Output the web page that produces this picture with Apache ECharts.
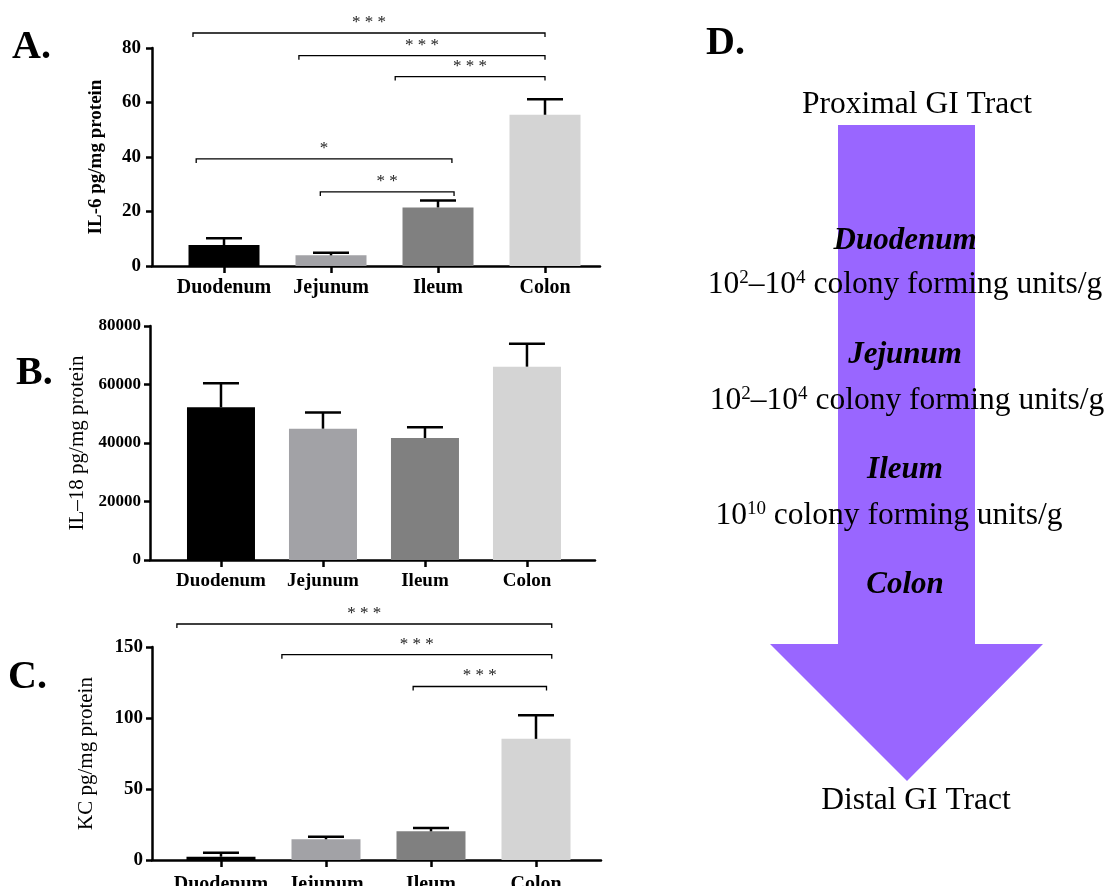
<!DOCTYPE html>
<html>
<head>
<meta charset="utf-8">
<script src="https://cdn.jsdelivr.net/npm/echarts@6/dist/echarts.min.js"></script>
<style>
  html, body { margin: 0; padding: 0; background: #fff; }
  #main { width: 1108px; height: 886px; }
</style>
</head>
<body>
<div id="main"></div>
<script>
const categories = ['Duodenum', 'Jejunum', 'Ileum', 'Colon'];
const barColors = ['#000000', '#a2a2a6', '#808080', '#d4d4d4'];

const il6Mean = [7.7, 3.9, 21.5, 55.5];
const il6Sem = [2.5, 1.0, 2.5, 5.7];
const il6Ticks = [0, 20, 40, 60, 80];

const il18Mean = [52200, 44900, 41700, 66100];
const il18Sem = [8200, 5500, 3700, 7850];
const il18Ticks = [0, 20000, 40000, 60000, 80000];

const kcMean = [2.3, 14.6, 20.2, 85.3];
const kcSem = [2.8, 1.8, 2.4, 16.7];
const kcTicks = [0, 50, 100, 150];

// significance brackets: [from, to, height, stars]
const il6Sig = [
  [-0.29, 3.0, 85.5, '***'],
  [0.70, 3.0, 77.2, '***'],
  [1.60, 3.0, 69.5, '***'],
  [-0.26, 2.13, 39.3, '*'],
  [0.90, 2.15, 27.2, '**']
];
const kcSig = [
  [-0.42, 3.15, 166.2, '***'],
  [0.58, 3.15, 144.6, '***'],
  [1.83, 3.10, 122.2, '***']
];

const tractEnds = ['Proximal GI Tract', 'Distal GI Tract'];
const regions = ['Duodenum', 'Jejunum', 'Ileum', 'Colon'];
const cfu = [
  '10{s|2}–10{s|4} colony forming units/g',
  '10{s|2}–10{s|4} colony forming units/g',
  '10{s|10} colony forming units/g'
];

const serif = 'Liberation Serif';
const chart = echarts.init(document.getElementById('main'));

const grids = [
  {left: 152, top: 48, width: 448, height: 218, outerBoundsMode: 'none'},
  {left: 150, top: 326, width: 445, height: 234, outerBoundsMode: 'none'},
  {left: 152, top: 647, width: 449, height: 213, outerBoundsMode: 'none'}
];
const xRanges = [[-0.673, 3.514], [-0.696, 3.667], [-0.657, 3.619]];

function xAxisFor(i, fontSize, margin) {
  return {
    type: 'value', gridIndex: i, min: xRanges[i][0], max: xRanges[i][1],
    axisLine: {show: true, onZero: false, lineStyle: {color: '#000', width: 2.5}},
    axisTick: {show: true, customValues: [0, 1, 2, 3], length: 7, lineStyle: {color: '#000', width: 2.5}},
    axisLabel: {
      customValues: [0, 1, 2, 3], formatter: v => categories[Math.round(v)],
      margin, color: '#000', fontFamily: serif, fontWeight: 'bold', fontSize
    },
    splitLine: {show: false}
  };
}

function yAxisFor(i, ticks, name, nameOpts) {
  return {
    type: 'value', gridIndex: i, min: ticks[0], max: ticks[ticks.length - 1],
    interval: ticks[1] - ticks[0],
    name, nameLocation: 'middle', nameGap: nameOpts.gap,
    nameTextStyle: {fontFamily: serif, fontWeight: nameOpts.weight, fontSize: nameOpts.size, color: '#000'},
    axisLine: {show: true, onZero: false, lineStyle: {color: '#000', width: 2.5}},
    axisTick: {show: true, length: 6, lineStyle: {color: '#000', width: 2.5}},
    axisLabel: {
      margin: nameOpts.margin, color: '#000', fontFamily: serif, fontWeight: 'bold', fontSize: nameOpts.tickSize,
      formatter: v => String(v)
    },
    splitLine: {show: false}
  };
}

function errItem(params, api) {
  const base = api.coord([api.value(0), api.value(1)]);
  const top = api.coord([api.value(0), api.value(2)]);
  const half = 18;
  return {
    type: 'group', children: [
      {type: 'line', shape: {x1: base[0], y1: base[1], x2: top[0], y2: top[1]}, style: {stroke: '#000', lineWidth: 2.5}},
      {type: 'line', shape: {x1: top[0] - half, y1: top[1], x2: top[0] + half, y2: top[1]}, style: {stroke: '#000', lineWidth: 2.5}}
    ]
  };
}

function sigRenderer(sig) {
  return function (params, api) {
    const a = api.coord([api.value(0), api.value(2)]);
    const b = api.coord([api.value(1), api.value(2)]);
    return {
      type: 'group', children: [
        {type: 'polyline', shape: {points: [[a[0], a[1] + 4], [a[0], a[1]], [b[0], b[1]], [b[0], b[1] + 4]]},
          style: {stroke: '#000', lineWidth: 1.3, fill: null}},
        {type: 'text', style: {
          text: sig[params.dataIndex][3].split('').join(' '), x: (a[0] + b[0]) / 2, y: a[1] - 2,
          align: 'center', verticalAlign: 'bottom', fontFamily: serif, fontSize: 17, fill: '#222'
        }}
      ]
    };
  };
}

function panelSeries(i, mean, sem, barWidth, sig) {
  const out = [
    {
      type: 'bar', xAxisIndex: i, yAxisIndex: i, barWidth,
      data: mean.map((v, k) => ({value: [k, v], itemStyle: {color: barColors[k]}}))
    },
    {
      type: 'custom', xAxisIndex: i, yAxisIndex: i, renderItem: errItem, z: 3,
      encode: {x: 0, y: [1, 2]},
      data: mean.map((v, k) => [k, v, v + sem[k]])
    }
  ];
  if (sig) {
    out.push({
      type: 'custom', xAxisIndex: i, yAxisIndex: i, renderItem: sigRenderer(sig), z: 3,
      encode: {x: [0, 1], y: 2},
      data: sig.map(s => [s[0], s[1], s[2]])
    });
  }
  return out;
}

const letterStyle = {fontFamily: serif, fontWeight: 'bold', fontSize: 40, fill: '#000', verticalAlign: 'middle'};
const bigText = {fontFamily: serif, fontSize: 31.5, fill: '#000', align: 'center', verticalAlign: 'middle'};
const regionText = {fontFamily: serif, fontSize: 31, fontWeight: 'bold', fontStyle: 'italic', fill: '#000', align: 'center', verticalAlign: 'middle'};
const supRich = {s: {fontFamily: serif, fontSize: 19, verticalAlign: 'top', fill: '#000'}};

const regionY = [241, 355, 470, 585];
const cfuPos = [[905, 285], [907, 401], [889, 516]];

chart.setOption({
  animation: false,
  backgroundColor: '#fff',
  grid: grids,
  xAxis: [xAxisFor(0, 20, 12), xAxisFor(1, 19, 12), xAxisFor(2, 20, 15)],
  yAxis: [
    yAxisFor(0, il6Ticks, 'IL-6 pg/mg protein', {gap: 46, weight: 'bold', size: 19, margin: 11, tickSize: 19}),
    yAxisFor(1, il18Ticks, 'IL–18 pg/mg protein', {gap: 62, weight: 'normal', size: 21, margin: 9, tickSize: 17}),
    yAxisFor(2, kcTicks, 'KC pg/mg protein', {gap: 55, weight: 'normal', size: 21, margin: 9, tickSize: 19})
  ],
  series: [
    ...panelSeries(0, il6Mean, il6Sem, 71, il6Sig),
    ...panelSeries(1, il18Mean, il18Sem, 68, null),
    ...panelSeries(2, kcMean, kcSem, 69, kcSig)
  ],
  graphic: [
    {type: 'text', style: Object.assign({text: 'A.', x: 12, y: 48}, letterStyle)},
    {type: 'text', style: Object.assign({text: 'B.', x: 16, y: 374}, letterStyle)},
    {type: 'text', style: Object.assign({text: 'C.', x: 8, y: 678}, letterStyle)},
    {type: 'text', style: Object.assign({text: 'D.', x: 706, y: 44}, letterStyle)},
    {type: 'polygon', shape: {points: [[838, 125], [975, 125], [975, 644], [1043, 644], [907, 781], [770, 644], [838, 644]]},
      style: {fill: '#9966ff'}},
    {type: 'text', z: 10, style: Object.assign({text: tractEnds[0], x: 917, y: 105}, bigText)},
    {type: 'text', z: 10, style: Object.assign({text: tractEnds[1], x: 916, y: 801}, bigText)},
    ...regions.map((r, k) => ({type: 'text', z: 10, style: Object.assign({text: r, x: 905, y: regionY[k]}, regionText)})),
    ...cfu.map((t, k) => ({type: 'text', z: 10, style: Object.assign({text: t, x: cfuPos[k][0], y: cfuPos[k][1], rich: supRich}, bigText)}))
  ]
});
</script>
</body>
</html>
